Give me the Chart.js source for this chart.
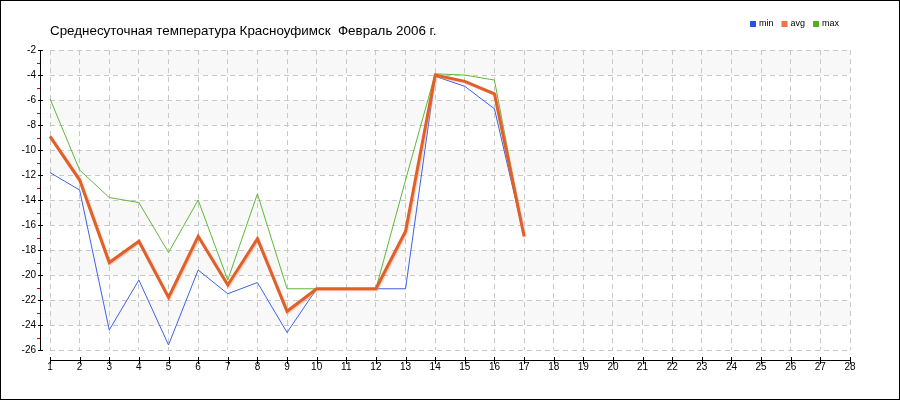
<!DOCTYPE html>
<html><head><meta charset="utf-8">
<script src="https://cdn.jsdelivr.net/npm/chart.js@4/dist/chart.umd.min.js"></script>
<style>html,body{margin:0;padding:0;background:#fff;overflow:hidden}canvas{display:block}</style>
</head><body>
<canvas id="c" width="900" height="400"></canvas>
<script>
const titleText = 'Среднесуточная температура Красноуфимск  Февраль 2006 г.';
const days = ['1','2','3','4','5','6','7','8','9','10','11','12','13','14','15','16','17','18','19','20','21','22','23','24','25','26','27','28'];
const seriesNames = ['min', 'avg', 'max'];
const minTemp = [-11.8, -13.2, -24.4, -20.4, -25.6, -19.6, -21.5, -20.6, -24.6, -21.1, -21.1, -21.1, -21.1, -4.1, -4.9, -6.7, -16.9];
const avgTemp = [-8.9, -12.4, -19.0, -17.3, -21.8, -16.9, -20.8, -17.1, -22.9, -21.1, -21.1, -21.1, -16.5, -4.0, -4.5, -5.5, -16.9];
const maxTemp = [-5.9, -11.6, -13.8, -14.2, -18.2, -14.0, -20.4, -13.5, -21.1, -21.1, -21.1, -21.1, -12.4, -3.9, -4.0, -4.4, -16.9];
const yTicks = [-2, -4, -6, -8, -10, -12, -14, -16, -18, -20, -22, -24, -26];
const yMinorTicks = [-3, -5, -7, -9, -11, -13, -15, -17, -19, -21, -23, -25];
const bandRanges = [[-2, -4], [-6, -8], [-10, -12], [-14, -16], [-18, -20], [-22, -24]];

const lineColors = ['#3d62e8', '#e0602a', '#5fb83a'];
const legendColors = ['#2a4fe6', '#ee7446', '#52b020'];

Chart.defaults.font.family = '"Liberation Sans", Arial, sans-serif';
Chart.defaults.color = '#000';

const decor = {
  id: 'decor',
  beforeDraw(chart) {
    const ctx = chart.ctx, ca = chart.chartArea, y = chart.scales.y;
    ctx.save();
    ctx.fillStyle = '#fff';
    ctx.fillRect(0, 0, chart.width, chart.height);
    ctx.fillStyle = '#f8f8f8';
    bandRanges.forEach(([a, b]) => {
      const y1 = y.getPixelForValue(a), y2 = y.getPixelForValue(b);
      ctx.fillRect(ca.left, y1, ca.right - ca.left, y2 - y1);
    });
    ctx.restore();
  },
  beforeDatasetDraw(chart, args) {
    if (args.index === 1) {
      const ctx = chart.ctx;
      ctx.save();
      ctx.shadowColor = 'rgba(240,140,100,0.45)';
      ctx.shadowOffsetX = 1;
      ctx.shadowOffsetY = 1;
      ctx.shadowBlur = 1;
    }
  },
  afterDatasetDraw(chart, args) {
    if (args.index === 1) chart.ctx.restore();
  },
  afterDraw(chart) {
    const ctx = chart.ctx, ca = chart.chartArea, y = chart.scales.y, x = chart.scales.x;
    ctx.save();
    ctx.lineWidth = 1;
    const ax = 40.5;
    ctx.strokeStyle = '#000';
    ctx.beginPath();
    ctx.moveTo(ax, y.getPixelForValue(yTicks[0]));
    ctx.lineTo(ax, y.getPixelForValue(yTicks[yTicks.length - 1]));
    yTicks.forEach(v => {
      const py = Math.round(y.getPixelForValue(v)) + 0.5;
      ctx.moveTo(38, py); ctx.lineTo(43, py);
    });
    ctx.stroke();
    ctx.strokeStyle = '#e00000';
    ctx.beginPath();
    yMinorTicks.forEach(v => {
      const py = Math.round(y.getPixelForValue(v)) + 0.5;
      ctx.moveTo(37, py); ctx.lineTo(40, py);
    });
    ctx.stroke();
    const ay = 360.5;
    ctx.strokeStyle = '#000';
    ctx.beginPath();
    ctx.moveTo(ca.left, ay); ctx.lineTo(ca.right, ay);
    days.forEach((d, i) => {
      const px = Math.round(x.getPixelForValue(i)) + 0.5;
      ctx.moveTo(px, 357); ctx.lineTo(px, 364);
    });
    ctx.stroke();
    ctx.font = '9px "Liberation Sans", Arial, sans-serif';
    ctx.textBaseline = 'middle';
    ctx.textAlign = 'left';
    let lx = 750;
    seriesNames.forEach((n, i) => {
      ctx.fillStyle = legendColors[i];
      ctx.fillRect(lx, 21, 6, 6);
      ctx.fillStyle = '#000';
      ctx.fillText(n, lx + 9, 24);
      lx += 9 + ctx.measureText(n).width + 8;
    });
    ctx.strokeStyle = '#000';
    ctx.strokeRect(0.5, 0.5, chart.width - 1, chart.height - 1);
    ctx.restore();
  }
};

new Chart(document.getElementById('c'), {
  type: 'line',
  data: {
    labels: days,
    datasets: [
      { label: seriesNames[0], data: minTemp, borderColor: lineColors[0], backgroundColor: legendColors[0], borderWidth: 1, order: 2 },
      { label: seriesNames[1], data: avgTemp, borderColor: lineColors[1], backgroundColor: legendColors[1], borderWidth: 3, order: 0 },
      { label: seriesNames[2], data: maxTemp, borderColor: lineColors[2], backgroundColor: legendColors[2], borderWidth: 1, order: 1 }
    ]
  },
  options: {
    responsive: false,
    animation: false,
    events: [],
    elements: { point: { radius: 0 }, line: { tension: 0, borderJoinStyle: 'miter' } },
    layout: { padding: { left: 0, right: 50, top: 0, bottom: 0 } },
    plugins: {
      legend: { display: false },
      tooltip: { enabled: false },
      title: {
        display: true, text: titleText, align: 'start', fullSize: false,
        color: '#000', font: { size: 13.4, weight: 'normal' },
        padding: { top: 23, bottom: 11 }
      }
    },
    scales: {
      x: {
        type: 'category',
        offset: false,
        grid: { color: '#c8c8c8', drawTicks: false },
        border: { display: false, dash: [5, 4] },
        ticks: { padding: 11, font: { size: 10 }, color: '#000', maxRotation: 0, autoSkip: false },
        afterFit(s) { s.height = 50; }
      },
      y: {
        type: 'linear', min: -26, max: -2,
        afterBuildTicks(s) { s.ticks = yTicks.map(v => ({ value: v })); },
        grid: { color: '#c8c8c8', drawTicks: false },
        border: { display: false, dash: [5, 4] },
        ticks: { padding: 14, font: { size: 10 }, color: '#000' },
        afterFit(s) { s.width = 50; }
      }
    }
  },
  plugins: [decor]
});
</script>
</body></html>
